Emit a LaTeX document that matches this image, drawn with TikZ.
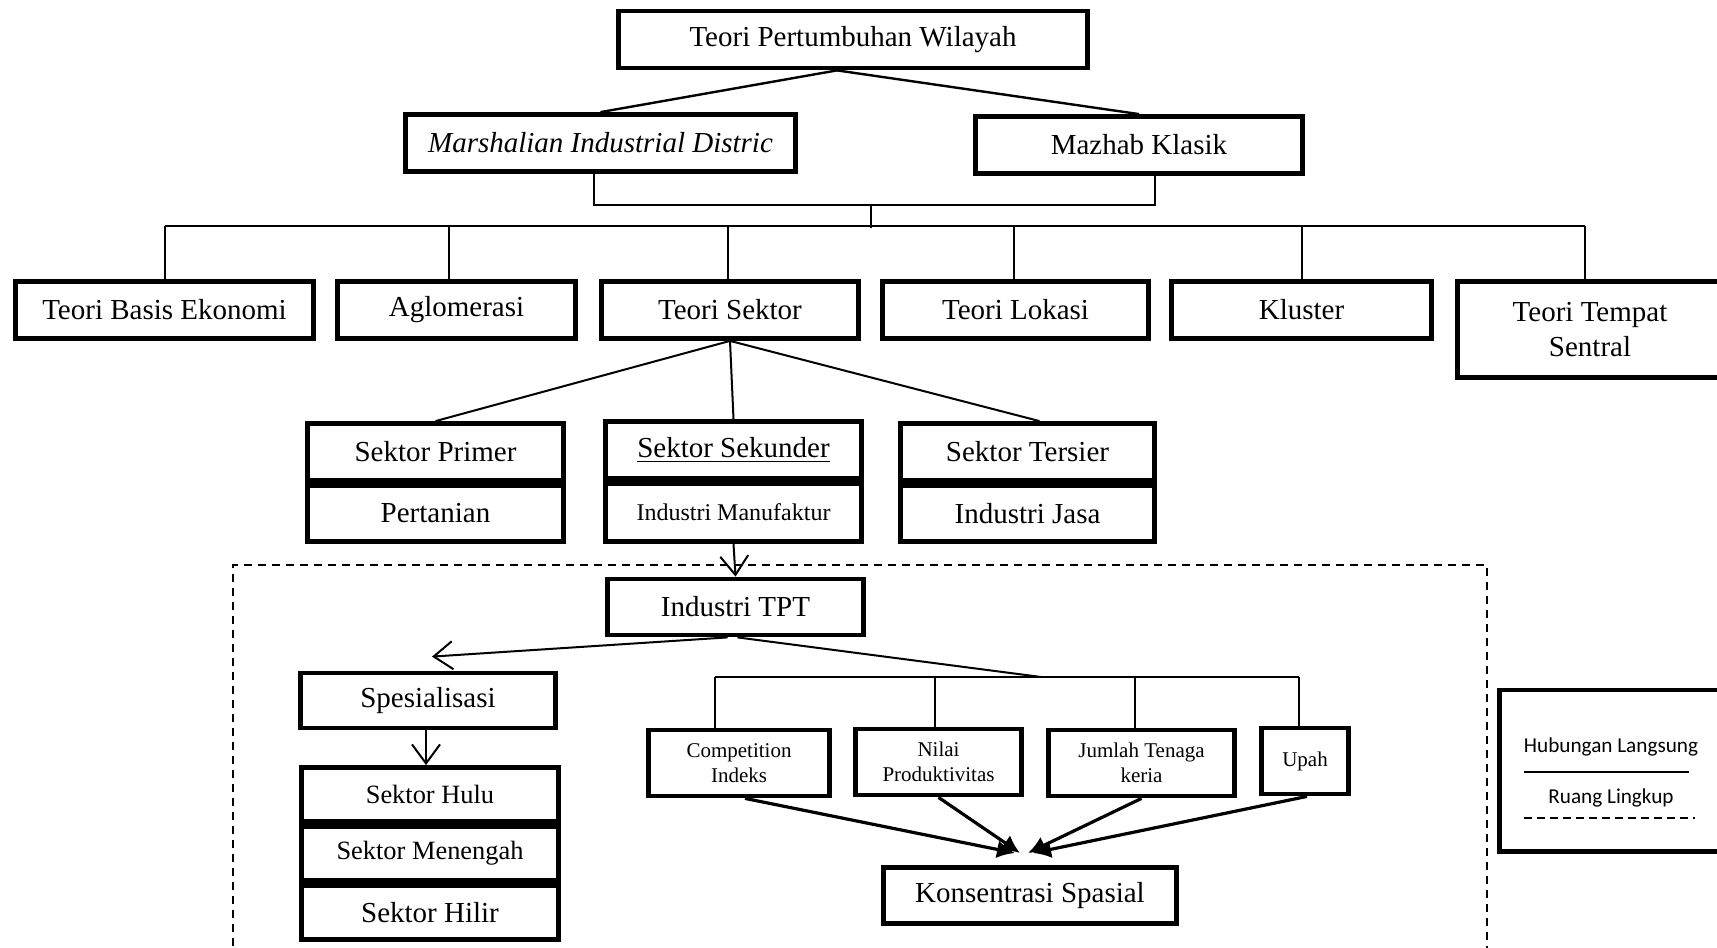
\documentclass[tikz,border=0pt]{standalone}
\usepackage{fontspec}
\setmainfont{Liberation Serif}
\newfontfamily\legendfont{Carlito}
\usetikzlibrary{arrows.meta,calc}

\begin{document}
\begin{tikzpicture}[x=0.5pt,y=-0.5pt,
box/.style={draw,line width=2.4pt,minimum height=28.5pt,inner sep=2pt,align=center,font=\fontsize{14.5}{17.4}\selectfont},
small/.style={draw,line width=2.4pt,minimum height=33pt,inner sep=1pt,align=center,font=\fontsize{10.5}{12.8}\selectfont},
link/.style={line width=1pt},
barb/.style={line width=1pt,-{Straight Barb[length=9.5pt,width=14pt,line width=1pt]}},
feed/.style={line width=1.6pt,-{Latex[length=9pt,width=9pt]}},
frame/.style={line width=1pt,dash pattern=on 4pt off 3pt},
legtext/.style={font=\legendfont\fontsize{10.6}{12.7}\selectfont,inner sep=1pt}]
\useasboundingbox (0,0) rectangle (1717,947);

\node[box,minimum width=234.5pt] (growth) at (853,39.5) {Teori Pertumbuhan Wilayah};
\node[box,minimum width=195pt,font=\fontsize{14.5}{17.4}\selectfont\itshape] (marsh) at (600.5,143) {Marshalian Industrial Distric};
\node[box,minimum width=163.5pt] (mazhab) at (1139,145) {Mazhab Klasik};

\node[box,minimum width=149pt] (basis) at (164.5,310) {Teori Basis Ekonomi};
\node[box,minimum width=119pt] (aglo) at (456.5,310) {Aglomerasi};
\node[box,minimum width=128.5pt] (sektor) at (730,310) {Teori Sektor};
\node[box,minimum width=133pt] (lokasi) at (1015.5,310) {Teori Lokasi};
\node[box,minimum width=130pt] (kluster) at (1301.5,310) {Kluster};
\node[box,minimum width=132.5pt,minimum height=48pt] (tempat) at (1590,329.5) {Teori Tempat\\Sentral};

\node[box,minimum width=128pt,minimum height=28.5pt] (primer) at (435.5,452) {Sektor Primer};
\node[box,minimum width=128pt,minimum height=28pt] (tani) at (435.5,513.5) {Pertanian};
\node[box,minimum width=128pt,minimum height=28.5pt] (sekunder) at (733.5,450) {\underline{Sektor Sekunder}};
\node[box,minimum width=128pt,minimum height=29pt,font=\fontsize{12}{14.4}\selectfont] (manuf) at (733.5,512.5) {Industri Manufaktur};
\node[box,minimum width=127pt,minimum height=28.5pt] (tersier) at (1027.5,452) {Sektor Tersier};
\node[box,minimum width=127pt,minimum height=28pt] (jasa) at (1027.5,513.5) {Industri Jasa};

\draw[frame] (233,960) -- (233,565) -- (1487,565) -- (1487,960);

\node[box,minimum width=128pt,minimum height=28pt] (tpt) at (735.5,607) {Industri TPT};
\node[box,minimum width=127.5pt,minimum height=27.5pt] (spes) at (428,700.5) {Spesialisasi};
\node[box,minimum width=128.5pt,minimum height=27pt,font=\fontsize{13.2}{15.8}\selectfont] (hulu) at (430,794.5) {Sektor Hulu};
\node[box,minimum width=128.5pt,minimum height=27pt,font=\fontsize{13.2}{15.8}\selectfont] (tengah) at (430,853.5) {Sektor Menengah};
\node[box,minimum width=128.5pt,minimum height=27pt] (hilir) at (430,912.5) {Sektor Hilir};

\node[small,minimum width=90.6pt] (comp) at (739,763) {Competition\\Indeks};
\node[small,minimum width=83.1pt] (nilai) at (938.5,762) {Nilai\\Produktivitas};
\node[small,minimum width=93.1pt] (jumlah) at (1141.5,763) {Jumlah Tenaga\\keria};
\node[small,minimum width=43.6pt] (upah) at (1305,761) {Upah};
\node[box,minimum width=146.6pt,minimum height=28.1pt] (konsen) at (1030,895.5) {Konsentrasi Spasial};

\node[draw,line width=2.4pt,minimum width=111.6pt,minimum height=80.6pt] (legend) at (1611,770.5) {};
\node[legtext] (legA) at (1611,747) {Hubungan Langsung};
\node[legtext] (legB) at (1611,798) {Ruang Lingkup};
\draw[link] (1524,772) -- (1689,772);
\draw[line width=1pt,dash pattern=on 4pt off 2.5pt] (1524,818) -- (1695,818);

\draw[link,line width=1.2pt] ([xshift=-8pt]growth.south) -- (marsh.north);
\draw[link,line width=1.2pt] ([xshift=-8pt]growth.south) -- (mazhab.north);
\coordinate (brk) at (871,205);
\coordinate (busL) at (166,226);
\draw[link] ([xshift=-3.5pt]marsh.south) |- (brk) -| ([xshift=8pt]mazhab.south);
\draw[link] (brk) -- ($(brk |- busL)+(0,2)$);
\foreach \n/\dx in {basis/0,aglo/-4,sektor/-1,lokasi/-1,kluster/0,tempat/-2.5}{
 \coordinate (d\n) at ([xshift=\dx pt]\n.north);
 \draw[link] (d\n) -- (d\n |- busL);
}
\draw[link] (dbasis |- busL) -- (dtempat |- busL);

\draw[link] (sektor.south) -- (primer.north);
\draw[link] (sektor.south) -- (sekunder.north);
\draw[link] (sektor.south) -- ([xshift=6pt]tersier.north);

\draw[barb] (manuf.south) -- (tpt.north);
\draw[barb] ([xshift=-4pt]tpt.south) -- ([xshift=2pt,yshift=7pt]spes.north);
\draw[barb] ([xshift=-1pt]spes.south) -- ([xshift=-2pt]hulu.north);
\coordinate (fjoin) at (1041,677);
\draw[link] ([xshift=1pt]tpt.south) -- (fjoin);
\foreach \n/\dx in {comp/-12,nilai/-2,jumlah/-3.5,upah/-3}{
 \coordinate (t\n) at ([xshift=\dx pt]\n.north);
 \draw[link] (t\n) -- (t\n |- fjoin);
}
\draw[link] (tcomp |- fjoin) -- (tupah |- fjoin);

\draw[feed] ([xshift=3pt]comp.south) -- ([xshift=-7.5pt,yshift=6pt]konsen.north);
\draw[feed] (nilai.south) -- ([xshift=-5pt,yshift=6pt]konsen.north);
\draw[feed] (jumlah.south) -- ([xshift=-1pt,yshift=6pt]konsen.north);
\draw[feed] ([xshift=1pt]upah.south) -- ([xshift=1.5pt,yshift=6pt]konsen.north);
\end{tikzpicture}
\end{document}
